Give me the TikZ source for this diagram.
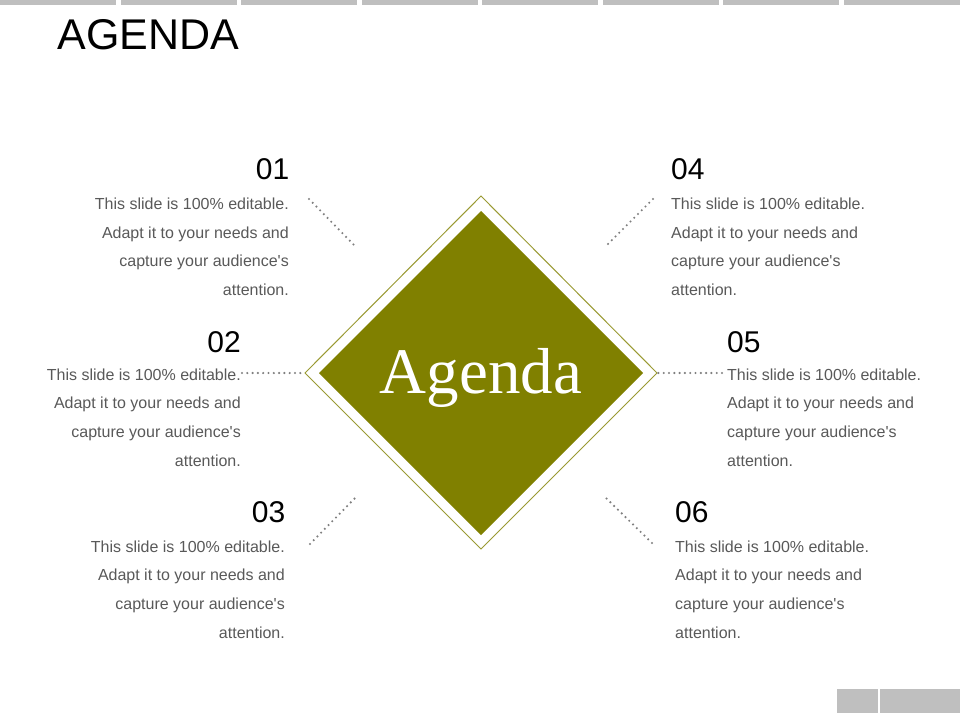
\documentclass[tikz,border=0pt]{standalone}
\usepackage{fontspec}
\setmainfont{Liberation Sans}
\newfontfamily\agsans{Liberation Sans}
\newfontfamily\agserif{Liberation Serif}
\definecolor{agolive}{HTML}{808000}
\definecolor{agbar}{HTML}{BFBFBF}
\definecolor{agtext}{HTML}{595959}
\definecolor{agdot}{HTML}{7F7F7F}
\newcommand{\agtextR}[1]{\begin{tabular}[t]{@{}r@{}}#1\end{tabular}}
\newcommand{\agtextL}[1]{\begin{tabular}[t]{@{}l@{}}#1\end{tabular}}
\tikzset{
  topbar/.style={fill=agbar},
  numlabel/.style={inner sep=0pt, font=\agsans\fontsize{30}{30}\selectfont, text=black},
  bodytext/.style={inner sep=0pt, font=\agsans\fontsize{16}{28.7}\selectfont, text=agtext},
  dotline/.style={agdot, line width=2.4pt, line cap=round, dash pattern=on 0pt off 5.3pt},
}
\begin{document}
\begin{tikzpicture}[x=1pt,y=-1pt]
\useasboundingbox[fill=white] (0,0) rectangle (960,720);
% top bar segments
\foreach \i in {0,...,7}
  \fill[topbar] ({\i*120.57},0) rectangle ({\i*120.57+116},4.7);
% bottom right boxes
\fill[topbar] (837,689) rectangle (878,713);
\fill[topbar] (880,689) rectangle (960,713);
% title
\node[anchor=base west, inner sep=0pt, font=\agsans\fontsize{43}{43}\selectfont] (title) at (57.5,49) {AGENDA};
% diamond
\draw[agolive!80, line width=1pt] (481,196) -- (657,373) -- (481,549) -- (305,373) -- cycle;
\fill[agolive] (481,211) -- (643,373) -- (481,535) -- (319,373) -- cycle;
\node[anchor=base, inner sep=0pt, text=white, font=\agserif\fontsize{65}{65}\selectfont] (center) at (481,393) {Agenda};
% numbers
\node[numlabel, anchor=base east] (n1) at (289.5,179.5) {01};
\node[numlabel, anchor=base east] (n2) at (241,352) {02};
\node[numlabel, anchor=base east] (n3) at (285.5,522.5) {03};
\node[numlabel, anchor=base west] (n4) at (671,179.5) {04};
\node[numlabel, anchor=base west] (n5) at (727,352) {05};
\node[numlabel, anchor=base west] (n6) at (675,522.5) {06};
% body texts
\node[bodytext, anchor=base east] (t1) at (289,209.5) {\agtextR{This slide is 100\% editable.\\Adapt it to your needs and\\capture your audience's\\attention.}};
\node[bodytext, anchor=base east] (t2) at (241,380) {\agtextR{This slide is 100\% editable.\\Adapt it to your needs and\\capture your audience's\\attention.}};
\node[bodytext, anchor=base east] (t3) at (285,552) {\agtextR{This slide is 100\% editable.\\Adapt it to your needs and\\capture your audience's\\attention.}};
\node[bodytext, anchor=base west] (t4) at (671,209.5) {\agtextL{This slide is 100\% editable.\\Adapt it to your needs and\\capture your audience's\\attention.}};
\node[bodytext, anchor=base west] (t5) at (727,380) {\agtextL{This slide is 100\% editable.\\Adapt it to your needs and\\capture your audience's\\attention.}};
\node[bodytext, anchor=base west] (t6) at (675,552) {\agtextL{This slide is 100\% editable.\\Adapt it to your needs and\\capture your audience's\\attention.}};
% dotted leader lines
\coordinate (c1a) at (309,199); \coordinate (c1b) at (355,246);
\coordinate (c4a) at (653,199); \coordinate (c4b) at (606,246);
\coordinate (c2a) at (242,373); \coordinate (c2b) at (302,373);
\coordinate (c5a) at (722,373); \coordinate (c5b) at (658,373);
\coordinate (c3a) at (310,544); \coordinate (c3b) at (357,496);
\coordinate (c6a) at (652,543); \coordinate (c6b) at (605,497);
\draw[dotline] (c1a) -- (c1b);
\draw[dotline] (c4a) -- (c4b);
\draw[dotline] (c2a) -- (c2b);
\draw[dotline] (c5a) -- (c5b);
\draw[dotline] (c3a) -- (c3b);
\draw[dotline] (c6a) -- (c6b);
\end{tikzpicture}
\end{document}
